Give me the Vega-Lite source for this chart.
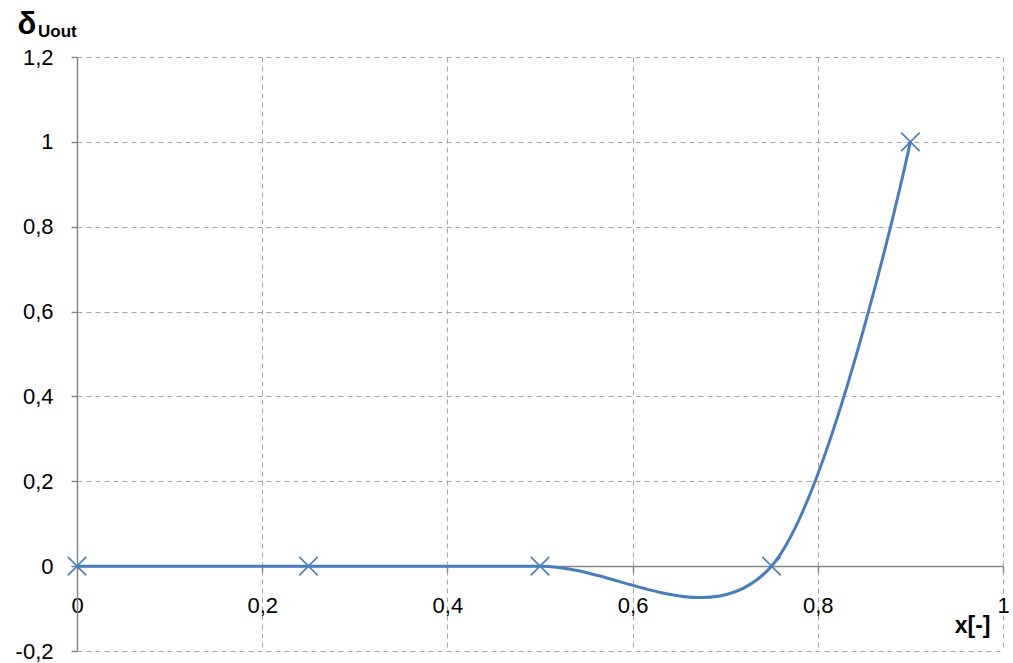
{
  "$schema": "https://vega.github.io/schema/vega-lite/v6.json",
  "width": 926,
  "height": 594,
  "autosize": {"type": "none"},
  "padding": {"left": 77, "top": 57, "right": 10, "bottom": 12},
  "background": "white",
  "config": {
    "view": {"stroke": null},
    "font": "Liberation Sans"
  },
  "data": {"values": [
    {"x": 0, "y": 0},
    {"x": 0.25, "y": 0},
    {"x": 0.5, "y": 0},
    {"x": 0.75, "y": 0},
    {"x": 0.9, "y": 1}
  ]},
  "layer": [
    {
      "mark": {"type": "line", "interpolate": "cardinal", "color": "#4A7EBB", "strokeWidth": 3},
      "encoding": {
        "x": {
          "field": "x", "type": "quantitative",
          "scale": {"domain": [0, 1], "nice": false, "zero": false},
          "axis": {
            "values": [0, 0.2, 0.4, 0.6, 0.8, 1],
            "offset": -85,
            "domainColor": "#868686", "domainWidth": 1.5,
            "tickColor": "#868686", "tickSize": 6, "tickWidth": 1.5,
            "labelPadding": 23, "labelFlush": false,
            "labelFont": "Liberation Sans", "labelFontSize": 22, "labelColor": "#000000",
            "labelExpr": "replace(replace(format(datum.value, '.1~f'), '.', ','), '\u2212', '-')",
            "grid": true, "gridColor": "#A6A6A6", "gridDash": [5, 4], "gridWidth": 1,
            "title": "x[-]", "titleFont": "Liberation Sans", "titleFontSize": 23, "titleFontWeight": "bold", "titleColor": "#000000",
            "titleAnchor": "end", "titleAlign": "right", "titleBaseline": "alphabetic",
            "titleX": 913, "titleY": 66
          }
        },
        "y": {
          "field": "y", "type": "quantitative",
          "scale": {"domain": [-0.2, 1.2], "nice": false, "zero": false},
          "axis": {
            "values": [-0.2, 0, 0.2, 0.4, 0.6, 0.8, 1, 1.2],
            "domainColor": "#868686", "domainWidth": 1.5,
            "tickColor": "#868686", "tickSize": 6, "tickWidth": 1.5,
            "labelPadding": 18, "labelFlush": false,
            "labelFont": "Liberation Sans", "labelFontSize": 22, "labelColor": "#000000",
            "labelExpr": "replace(replace(format(datum.value, '.1~f'), '.', ','), '\u2212', '-')",
            "grid": true, "gridColor": "#A6A6A6", "gridDash": [5, 4], "gridWidth": 1,
            "title": "δ", "titleFont": "Liberation Sans", "titleFontSize": 31, "titleFontWeight": "bold", "titleAngle": 0, "titleColor": "#000000",
            "titleAlign": "left", "titleBaseline": "alphabetic",
            "titleX": -60, "titleY": -24
          }
        }
      }
    },
    {
      "mark": {"type": "point", "shape": "M-1,-1L1,1M-1,1L1,-1", "filled": false, "color": "#4A7EBB", "size": 340, "strokeWidth": 1.6, "opacity": 1},
      "encoding": {
        "x": {"field": "x", "type": "quantitative"},
        "y": {"field": "y", "type": "quantitative"}
      }
    },
    {
      "data": {"values": [{"label": "Uout"}]},
      "mark": {"type": "text", "fontSize": 17, "fontWeight": "bold", "align": "left", "baseline": "alphabetic", "dx": -39, "dy": -20, "color": "#000000", "font": "Liberation Sans"},
      "encoding": {
        "text": {"field": "label", "type": "nominal"},
        "x": {"datum": 0, "type": "quantitative"},
        "y": {"datum": 1.2, "type": "quantitative"}
      }
    }
  ]
}
